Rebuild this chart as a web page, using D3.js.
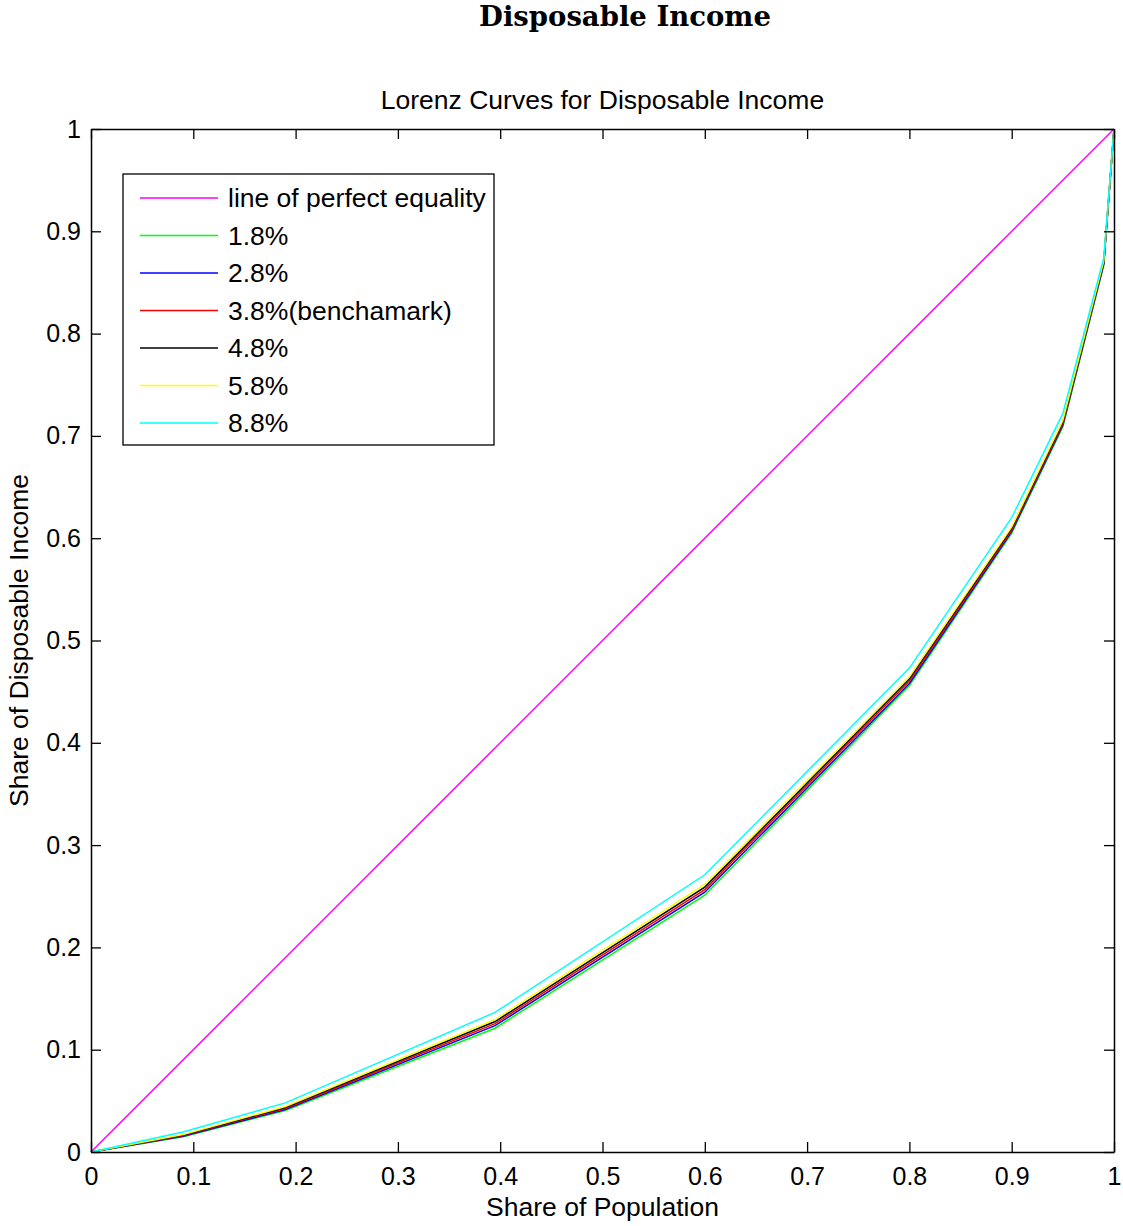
<!DOCTYPE html>
<html>
<head>
<meta charset="utf-8">
<script src="https://cdn.jsdelivr.net/npm/d3@7"></script>
<style>
  body { margin: 0; background: #fff; }
  text { font-family: "Liberation Sans", Arial, sans-serif; fill: #000; }
</style>
</head>
<body>
<script>
// share of population (x) at each kink of the Lorenz curves
var popShare = [0, 0.09, 0.19, 0.395, 0.6, 0.8, 0.9, 0.95, 0.99, 1];

var seriesNames = ["1.8%", "2.8%", "3.8%(benchamark)", "4.8%", "5.8%", "8.8%"];
var seriesColors = ["#00ff00", "#0000ff", "#ff0000", "#000000", "#ffff00", "#00ffff"];

var income18 = [0, 0.0150, 0.0405, 0.1210, 0.2510, 0.4560, 0.6050, 0.7090, 0.8670, 1];
var income28 = [0, 0.0155, 0.0415, 0.1235, 0.2540, 0.4580, 0.6065, 0.7105, 0.8680, 1];
var income38 = [0, 0.0160, 0.0425, 0.1255, 0.2565, 0.4605, 0.6080, 0.7120, 0.8690, 1];
var income48 = [0, 0.0165, 0.0435, 0.1275, 0.2590, 0.4625, 0.6095, 0.7135, 0.8700, 1];
var income58 = [0, 0.0170, 0.0445, 0.1295, 0.2615, 0.4645, 0.6110, 0.7150, 0.8710, 1];
var income88 = [0, 0.0195, 0.0480, 0.1365, 0.2710, 0.4730, 0.6200, 0.7220, 0.8740, 1];
var incomeSeries = [income18, income28, income38, income48, income58, income88];

var equality = [0, 1];
var tickValues = [0, 0.1, 0.2, 0.3, 0.4, 0.5, 0.6, 0.7, 0.8, 0.9, 1];

var width = 1123, height = 1226;
var margin = {top: 129, right: 9, bottom: 74, left: 91};
var plotW = width - margin.left - margin.right,
    plotH = height - margin.top - margin.bottom;

var svg = d3.select("body").append("svg")
    .attr("width", width)
    .attr("height", height);

svg.append("text")
    .attr("x", 625).attr("y", 26)
    .attr("text-anchor", "middle")
    .style("font-family", "'DejaVu Serif', 'Liberation Serif', serif")
    .style("font-weight", "bold")
    .style("font-size", "27.5px")
    .text("Disposable Income");

var g = svg.append("g")
    .attr("transform", "translate(" + margin.left + "," + margin.top + ")");

var x = d3.scaleLinear().domain([0, 1]).range([0, plotW]);
var y = d3.scaleLinear().domain([0, 1]).range([plotH, 0]);

var line = d3.line()
    .x(function (d) { return x(d[0]); })
    .y(function (d) { return y(d[1]); });

// line of perfect equality
g.append("path")
    .datum(equality.map(function (v) { return [v, v]; }))
    .attr("d", line)
    .attr("fill", "none")
    .attr("stroke", "#ff00ff")
    .attr("stroke-width", 1.5);

incomeSeries.forEach(function (vals, i) {
    g.append("path")
        .datum(vals.map(function (v, j) { return [popShare[j], v]; }))
        .attr("d", line)
        .attr("fill", "none")
        .attr("stroke", seriesColors[i])
        .attr("stroke-width", 1.5);
});

// axes, MATLAB style: ticks inside on all four sides
function styleAxis(sel) {
    sel.selectAll("path.domain").attr("stroke", "#000").attr("stroke-width", 1.5);
    sel.selectAll(".tick line").attr("stroke", "#000").attr("stroke-width", 1.3);
    sel.selectAll("text").style("font-size", "25px").style("font-family", "'Liberation Sans', Arial, sans-serif");
}
var fmt = function (d) { return d3.format("")(+d.toFixed(1)); };

g.append("g")
    .attr("transform", "translate(0," + plotH + ")")
    .call(d3.axisBottom(x).tickValues(tickValues).tickFormat(fmt).tickSizeInner(-10).tickSizeOuter(0).tickPadding(15))
    .call(styleAxis);
g.append("g")
    .call(d3.axisTop(x).tickValues(tickValues).tickFormat("").tickSizeInner(-10).tickSizeOuter(0))
    .call(styleAxis);
g.append("g")
    .call(d3.axisLeft(y).tickValues(tickValues).tickFormat(fmt).tickSizeInner(-10).tickSizeOuter(0).tickPadding(10))
    .call(styleAxis);
g.append("g")
    .attr("transform", "translate(" + plotW + ",0)")
    .call(d3.axisRight(y).tickValues(tickValues).tickFormat("").tickSizeInner(-10).tickSizeOuter(0))
    .call(styleAxis);

g.append("text")
    .attr("x", plotW / 2).attr("y", -20)
    .attr("text-anchor", "middle")
    .style("font-size", "26.5px")
    .text("Lorenz Curves for Disposable Income");

g.append("text")
    .attr("x", plotW / 2).attr("y", plotH + 64)
    .attr("text-anchor", "middle")
    .style("font-size", "26.5px")
    .text("Share of Population");

g.append("text")
    .attr("transform", "translate(" + (-63) + "," + (plotH / 2) + ") rotate(-90)")
    .attr("text-anchor", "middle")
    .style("font-size", "26.5px")
    .text("Share of Disposable Income");

// legend
var legendNames = ["line of perfect equality"].concat(seriesNames);
var legendColors = ["#ff00ff"].concat(seriesColors);
var legend = svg.append("g").attr("transform", "translate(123,174)");
legend.append("rect")
    .attr("width", 371).attr("height", 271)
    .attr("fill", "#fff").attr("stroke", "#000").attr("stroke-width", 1.3);
legendNames.forEach(function (name, i) {
    var ly = 24 + i * 37.5;
    legend.append("line")
        .attr("x1", 17).attr("x2", 95)
        .attr("y1", ly).attr("y2", ly)
        .attr("stroke", legendColors[i]).attr("stroke-width", 1.5);
    legend.append("text")
        .attr("x", 105).attr("y", ly)
        .attr("dy", "0.35em")
        .style("font-size", "26.5px")
        .text(name);
});
</script>
</body>
</html>
